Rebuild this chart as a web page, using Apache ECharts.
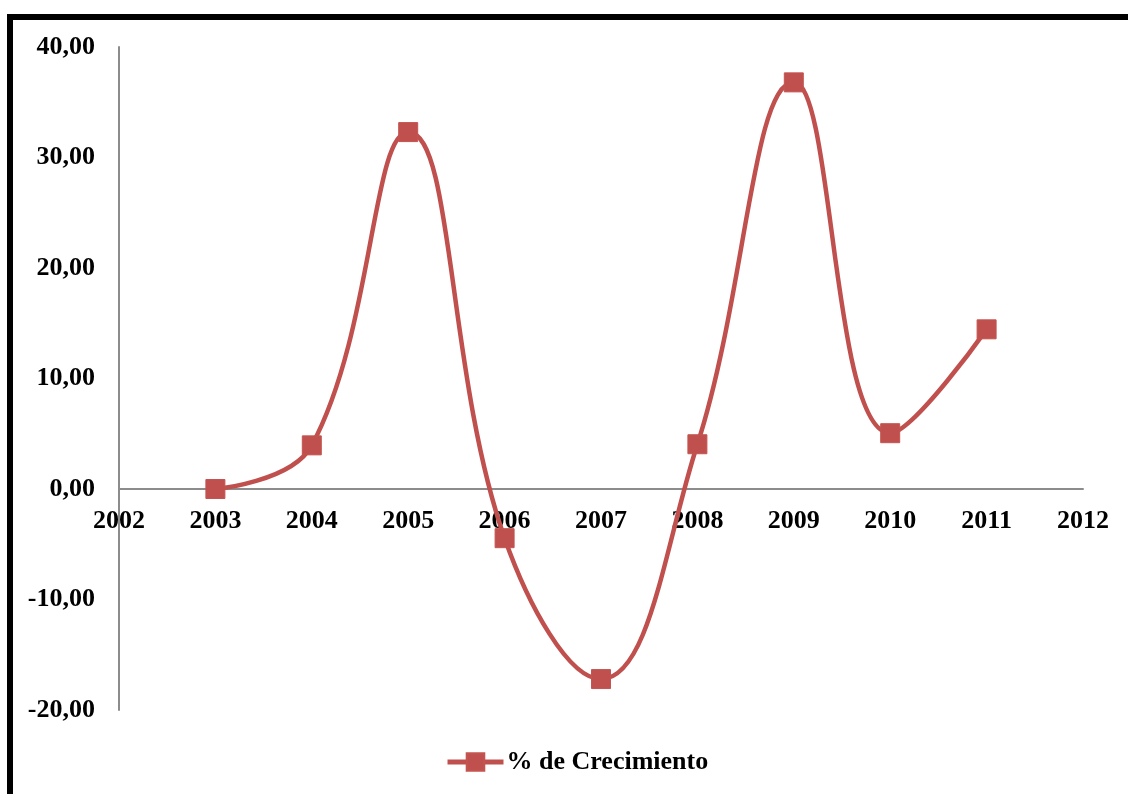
<!DOCTYPE html>
<html>
<head>
<meta charset="utf-8">
<script src="https://cdn.jsdelivr.net/npm/echarts@6/dist/echarts.min.js"></script>
<style>
html,body{margin:0;padding:0;background:#fff;}
#chart{width:1128px;height:794px;}
</style>
</head>
<body>
<div id="chart"></div>
<script>
var years = [2003, 2004, 2005, 2006, 2007, 2008, 2009, 2010, 2011];
var growth = [0.0, 3.95, 32.3, -4.45, -17.2, 4.05, 36.8, 5.05, 14.45];
var seriesName = '% de Crecimiento';
var yTickLabels = ['-20,00', '-10,00', '0,00', '10,00', '20,00', '30,00', '40,00'];

var chart = echarts.init(document.getElementById('chart'), null, {renderer: 'canvas'});
var font = '"Liberation Serif", "Times New Roman", serif';
var red = '#C0504D';

chart.setOption({
  animation: false,
  backgroundColor: '#ffffff',
  graphic: [{
    type: 'rect',
    shape: {x: 10, y: 17, width: 1200, height: 900},
    style: {fill: 'none', stroke: '#000', lineWidth: 6},
    z: 100
  }],
  grid: {left: 119, right: 45, top: 47, bottom: 84, containLabel: false},
  legend: {
    data: [seriesName],
    top: 749,
    left: 445,
    padding: 0,
    itemWidth: 56,
    itemHeight: 22,
    itemGap: 4,
    lineStyle: {width: 5, color: red},
    textStyle: {fontFamily: font, fontWeight: 'bold', fontSize: 26, color: '#000', padding: [0, 0, 0, -2]}
  },
  xAxis: {
    type: 'value',
    min: 2002,
    max: 2012,
    interval: 1,
    position: 'bottom',
    offset: -221,
    axisLine: {onZero: false, lineStyle: {color: '#8c8c8c', width: 2}},
    axisTick: {show: false},
    splitLine: {show: false},
    axisLabel: {
      margin: 19,
      fontFamily: font, fontWeight: 'bold', fontSize: 26, color: '#000',
      formatter: function (v) { return String(v); }
    }
  },
  yAxis: {
    type: 'value',
    min: -20,
    max: 40,
    interval: 10,
    axisLine: {show: true, lineStyle: {color: '#8c8c8c', width: 2}},
    axisTick: {show: false},
    splitLine: {show: false},
    axisLabel: {
      margin: 24,
      fontFamily: font, fontWeight: 'bold', fontSize: 26, color: '#000',
      formatter: function (v) {
        var idx = Math.round((v + 20) / 10);
        return yTickLabels[idx];
      }
    }
  },
  series: [{
    name: seriesName,
    type: 'line',
    smooth: 0.42,
    smoothConstraint: false,
    data: years.map(function (y, i) { return [y, growth[i]]; }),
    symbol: 'rect',
    symbolSize: 19,
    lineStyle: {color: red, width: 4.5},
    itemStyle: {color: red, borderColor: '#c45450', borderWidth: 1}
  }]
});
</script>
</body>
</html>
